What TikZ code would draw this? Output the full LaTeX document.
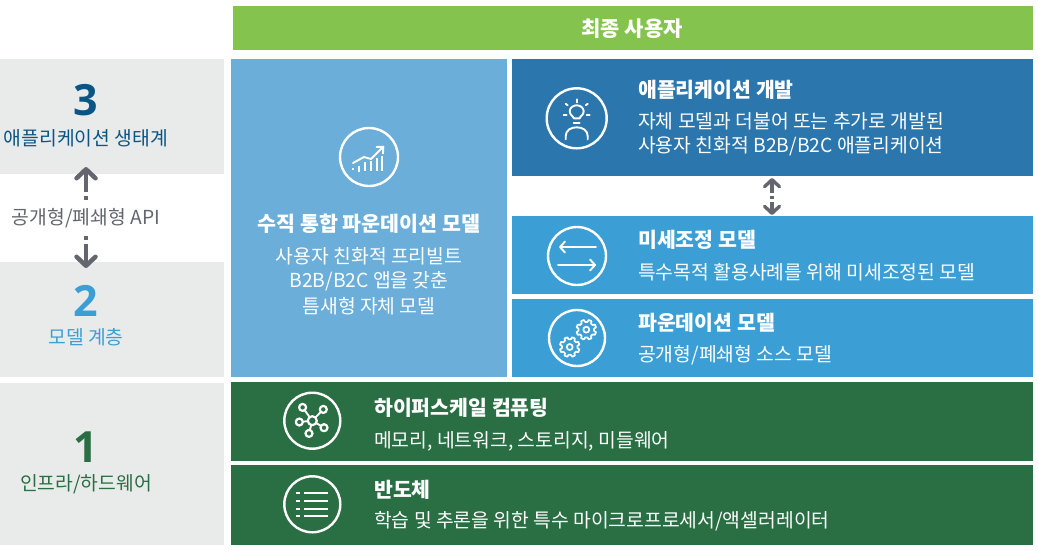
\documentclass[tikz,border=0pt]{standalone}
\usepackage{fontspec}
\setmainfont{Noto Sans CJK KR}
\newfontfamily\numfont{Open Sans}
\usetikzlibrary{arrows.meta}
\definecolor{topgreen}{HTML}{84C44E}
\definecolor{sidegray}{HTML}{E9EBEB}
\definecolor{tallblue}{HTML}{6AAED9}
\definecolor{darkblue}{HTML}{2B77AD}
\definecolor{midblue}{HTML}{3B9FD5}
\definecolor{darkgreen}{HTML}{2A6F43}
\definecolor{numblue}{HTML}{0B5584}
\definecolor{arrowgray}{HTML}{63666E}
\tikzset{
	panel/.style={anchor=north west, inner sep=0, outer sep=0},
	title/.style={anchor=west, inner sep=0, yshift=-1pt, text=white, font=\fontsize{20.5}{22}\selectfont\bfseries},
	body/.style={anchor=west, inner sep=0, yshift=-1pt, text=white, font=\fontsize{19.3}{22}\selectfont},
	centered/.style={inner sep=0, font=\fontsize{19.3}{22}\selectfont},
	bignum/.style={inner sep=0, font=\fontsize{43}{45}\selectfont\numfont\bfseries},
	iconline/.style={draw=white, line width=1.9, line cap=round, line join=round},
	apiarrow/.style={draw=arrowgray, line width=4.5, -{Straight Barb[length=9,width=19,line width=4.5,round]}},
	smallarrow/.style={draw=arrowgray, line width=3.4, {Straight Barb[length=7,width=15,line width=3.4,round]}-{Straight Barb[length=7,width=15,line width=3.4,round]}},
	icontip/.style={-{Straight Barb[length=5,width=11,line width=1.9,round]}},
}
\begin{document}
\begin{tikzpicture}[x=1pt, y=-1pt]
	\useasboundingbox (0, 0) rectangle (1038, 550);

	% \drawpanel#name#x1#y1#x2#y2#color
	\def\drawpanel#1#2#3#4#5#6{
		\node[panel, fill=#6, minimum width=#4pt - #2pt, minimum height=#5pt - #3pt] (#1) at (#2, #3) {};
	}

	% \drawgear#x#y
	\def\drawgear#1#2{
		\draw[iconline, line width=1.7, shift={(#1, #2)}] (0:7.8) \foreach \a in {0, 45, ..., 315} {
			-- (\a + 8:7.8) -- (\a + 14:10) -- (\a + 31:10) -- (\a + 37:7.8)
		} -- cycle;
		\draw[iconline, line width=1.7] (#1, #2) circle (3);
	}

	% panels
	\drawpanel{enduser}{233}{6}{1033}{50}{topgreen}
	\drawpanel{layerthree}{0}{59}{224}{174}{sidegray}
	\drawpanel{layertwo}{0}{262}{224}{377}{sidegray}
	\drawpanel{layerone}{0}{383}{224}{545}{sidegray}
	\drawpanel{vertical}{231}{59}{507}{377}{tallblue}
	\drawpanel{appdev}{512}{59}{1033}{176}{darkblue}
	\drawpanel{finetune}{512}{216}{1033}{294}{midblue}
	\drawpanel{foundation}{512}{299}{1033}{377}{midblue}
	\drawpanel{hyperscale}{231}{382}{1033}{461}{darkgreen}
	\drawpanel{semicon}{231}{465}{1033}{545}{darkgreen}

	\node[centered, text=white, font=\fontsize{21}{22}\selectfont\bfseries] (endusertext) at (632, 29) {최종 사용자};

	% left column
	\node[bignum, text=numblue] (numthree) at (86, 100) {3};
	\node[centered, text=numblue] (namethree) at (86, 138) {애플리케이션 생태계};
	\node[bignum, text=midblue] (numtwo) at (86, 301) {2};
	\node[centered, text=midblue] (nametwo) at (86, 337) {모델 계층};
	\node[bignum, text=darkgreen] (numone) at (86, 447) {1};
	\node[centered, text=darkgreen] (nameone) at (86, 484) {인프라/하드웨어};
	\node[centered, text=arrowgray, minimum height=36pt] (apilabel) at (86, 218) {공개형/폐쇄형 API};
	\coordinate (apitop) at (86, 167);
	\coordinate (apibottom) at (86, 268);
	\draw[apiarrow, dash pattern=on 3.5 off 4 on 60] (apilabel.north) -- (apitop);
	\draw[apiarrow, dash pattern=on 3.5 off 4 on 60] (apilabel.south) -- (apibottom);
	\coordinate (tunetop) at (772, 178);
	\coordinate (tunebottom) at (772, 215);
	\draw[smallarrow, dash pattern=on 12 off 3 on 3 off 3 on 20] (tunetop) -- (tunebottom);

	% vertical column text
	\node[centered, text=white, font=\fontsize{20.6}{22}\selectfont\bfseries] (verticaltitle) at (369, 224) {수직 통합 파운데이션 모델};
	\node[centered, text=white] (verticalone) at (369, 256) {사용자 친화적 프리빌트};
	\node[centered, text=white] (verticaltwo) at (369, 281) {B2B/B2C 앱을 갖춘};
	\node[centered, text=white] (verticalthree) at (369, 306) {틈새형 자체 모델};

	% right column text
	\node[title] (appdevtitle) at (638, 89) {애플리케이션 개발};
	\node[body] (appdevone) at (638, 120) {자체 모델과 더불어 또는 추가로 개발된};
	\node[body] (appdevtwo) at (638, 145) {사용자 친화적 B2B/B2C 애플리케이션};
	\node[title] (finetunetitle) at (638, 239) {미세조정 모델};
	\node[body] (finetunebody) at (638, 271) {특수목적 활용사례를 위해 미세조정된 모델};
	\node[title] (foundationtitle) at (638, 322) {파운데이션 모델};
	\node[body] (foundationbody) at (638, 354) {공개형/폐쇄형 소스 모델};
	\node[title] (hyperscaletitle) at (374, 407) {하이퍼스케일 컴퓨팅};
	\node[body] (hyperscalebody) at (374, 440) {메모리, 네트워크, 스토리지, 미들웨어};
	\node[title] (semicontitle) at (374, 489) {반도체};
	\node[body] (semiconbody) at (374, 520) {학습 및 추론을 위한 특수 마이크로프로세서/액셀러레이터};

	% icon rings
	\foreach \x/\y/\r in {369/157/29, 576.7/118.3/30, 577/256/29, 577/338/28, 312.3/420.7/28, 312.3/504.3/28} {
		\draw[iconline, line width=2.4] (\x, \y) circle (\r);
	}

	% chart
	\begin{scope}[shift={(369, 157)}]
		\foreach \x/\a/\b in {-16/11/13, -10/9/15, -4/5/14, 2/4/14, 8/1/14, 13/-1/14} {
			\draw[iconline, line width=2.2, line cap=butt] (\x, \a) -- (\x, \b);
		}
		\draw[iconline, -{Straight Barb[length=5,width=9,line width=1.9,round]}] (-16, 6) -- (-5, 0) -- (2, 2) -- (15, -11);
	\end{scope}

	% idea
	\begin{scope}[shift={(576.7, 118.3)}]
		\draw[iconline] (-3, 0) .. controls (-3, -2) and (-7, -3) .. (-7, -7) .. controls (-7, -11) and (-3, -13) .. (0, -13) .. controls (3, -13) and (7, -11) .. (7, -7) .. controls (7, -3) and (3, -2) .. (3, 0) -- cycle;
		\draw[iconline] (-3, 5) -- (3, 5);
		\draw[iconline] (-11, 21) -- (-11, 18) .. controls (-11, 12) and (-6, 9) .. (0, 9) .. controls (6, 9) and (11, 12) .. (11, 18) -- (11, 21);
		\draw[iconline] (0, -19) -- (0, -16);
		\foreach \s in {-1, 1} {
			\draw[iconline] (\s * 9, -13) -- (\s * 11, -14.5);
			\draw[iconline] (\s * 10, -3) -- (\s * 13, -3);
		}
	\end{scope}

	% exchange
	\begin{scope}[shift={(577, 256)}]
		\draw[iconline, icontip] (19, -9) -- (-18, -9);
		\draw[iconline, icontip] (-19, 9) -- (19, 9);
	\end{scope}

	% gears
	\drawgear{586.3}{329.7}
	\drawgear{569.7}{347}

	% network
	\begin{scope}[shift={(312.3, 420.7)}]
		\foreach \x/\y in {-9.7/-13.3, 11/-11.3, -13/1.3, 11.7/7, -3.3/12.7} {
			\draw[iconline] (0, 0) -- (\x, \y);
			\draw[iconline, fill=darkgreen, line width=2.2] (\x, \y) circle (3.5);
		}
		\draw[iconline, fill=darkgreen, line width=2.2] (0, 0) circle (4.5);
	\end{scope}

	% list
	\begin{scope}[shift={(312.3, 504.3)}]
		\foreach \y in {-11, -3, 5, 12} {
			\draw[iconline, line width=2.2, line cap=butt] (-16, \y) -- (-12.5, \y);
			\draw[iconline, line width=2.2, line cap=butt] (-8, \y) -- (16, \y);
		}
	\end{scope}
\end{tikzpicture}
\end{document}
